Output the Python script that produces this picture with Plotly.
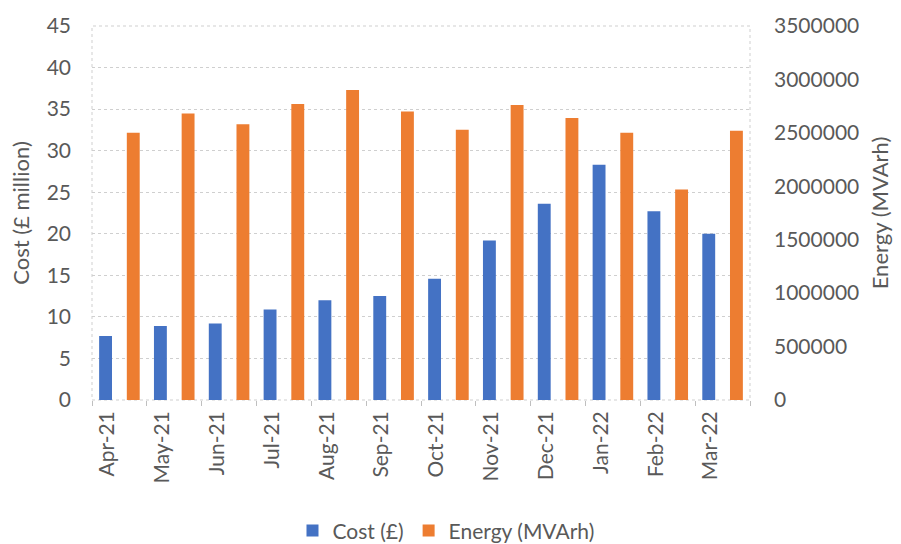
import plotly.graph_objects as go

# Monthly reactive power cost and energy, Apr-21 to Mar-22
months = ["Apr-21", "May-21", "Jun-21", "Jul-21", "Aug-21", "Sep-21",
          "Oct-21", "Nov-21", "Dec-21", "Jan-22", "Feb-22", "Mar-22"]
cost_million = [7.7, 8.9, 9.2, 10.9, 12.0, 12.5, 14.6, 19.2, 23.6, 28.3, 22.7, 20.0]
energy_mvarh = [2500000, 2680000, 2580000, 2770000, 2900000, 2700000,
                2530000, 2760000, 2640000, 2500000, 1970000, 2520000]

cost_ticks = list(range(0, 46, 5))
energy_ticks = list(range(0, 3500001, 500000))

BLUE = "#4472C4"
ORANGE = "#ED7D31"
TEXT = "#595959"
GRID = "#cfcfcf"
FONT = "Lato"

fig = go.Figure()
fig.add_trace(go.Bar(
    x=months, y=cost_million, name="Cost (£)",
    marker=dict(color=BLUE, line=dict(width=0)),
    offset=-0.37, width=0.235, yaxis="y",
))
fig.add_trace(go.Bar(
    x=months, y=energy_mvarh, name="Energy (MVArh)",
    marker=dict(color=ORANGE, line=dict(width=0)),
    offset=0.135, width=0.235, yaxis="y2",
))

fig.update_layout(
    width=901, height=544,
    margin=dict(l=92, r=149, t=21, b=143.5),
    paper_bgcolor="white", plot_bgcolor="white",
    font=dict(family=FONT, size=21, color=TEXT),
    barmode="overlay",
    showlegend=True,
    legend=dict(
        orientation="h", xref="container", yref="container",
        x=0.495, xanchor="center", y=0.024, yanchor="middle",
        font=dict(family=FONT, size=21, color=TEXT),
        itemwidth=30, traceorder="normal",
    ),
    xaxis=dict(
        type="category", tickangle=-90,
        ticks="outside", tickson="boundaries", ticklen=5,
        tickcolor="#bfbfbf", showgrid=False, showline=False,
        tickfont=dict(family=FONT, size=21, color=TEXT),
        ticklabelshift=-12, ticklabelstandoff=6,
    ),
    yaxis=dict(
        range=[0, 45], tickvals=cost_ticks,
        showgrid=True, gridcolor=GRID, griddash="dot", gridwidth=1,
        zeroline=False, showline=False, ticks="",
        tickfont=dict(family=FONT, size=21, color=TEXT),
        ticklabelstandoff=20,
        title=dict(text="Cost (£ million)", standoff=10,
                   font=dict(family=FONT, size=22, color=TEXT)),
    ),
    yaxis2=dict(
        range=[0, 3500000], tickvals=energy_ticks, tickformat="d",
        overlaying="y", side="right",
        showgrid=False, zeroline=False, showline=False, ticks="",
        tickfont=dict(family=FONT, size=21, color=TEXT),
        ticklabelstandoff=23,
        title=dict(text="Energy (MVArh)", standoff=14,
                   font=dict(family=FONT, size=22, color=TEXT)),
    ),
    shapes=[dict(
        type="rect", xref="paper", yref="paper", x0=0, x1=1, y0=0, y1=1,
        line=dict(color=GRID, width=1, dash="dot"), layer="below",
    )],
)

fig.write_html("out.html")
